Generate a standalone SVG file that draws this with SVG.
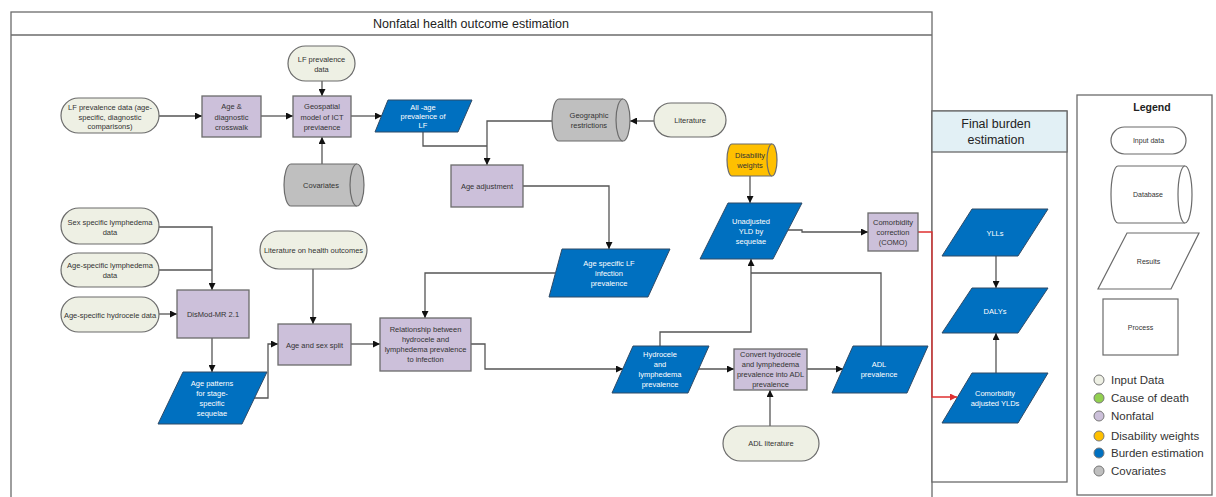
<svg xmlns="http://www.w3.org/2000/svg" width="1216" height="497" viewBox="0 0 1216 497">
<defs>
<style>
.frame{fill:#fff;stroke:#6b6b6b;stroke-width:1.3}
.inp{fill:#eef0e4;stroke:#6b6b6b;stroke-width:1.2}
.proc{fill:#ccc0da;stroke:#6b6b6b;stroke-width:1.3}
.res{fill:#0070c0;stroke:#2f4a66;stroke-width:1}
.db{fill:#bfbfbf;stroke:#6b6b6b;stroke-width:1.2}
.dw{fill:#ffc000;stroke:#6b6b6b;stroke-width:1.2}
.leg{fill:#fff;stroke:#6b6b6b;stroke-width:1.2}
.c{fill:none;stroke:#555;stroke-width:1.3}
.cr{fill:none;stroke:#e03030;stroke-width:1.3}
text{font-family:"Liberation Sans",Arial,sans-serif;text-anchor:middle;dominant-baseline:central}
.t{font-size:7.5px;fill:#333}
.tw{font-size:7.5px;fill:#fff}
.tl{font-size:7px;fill:#333}
.li{font-size:11.5px;fill:#333;text-anchor:start}
</style>
<marker id="ah" viewBox="0 0 10 10" refX="10" refY="5" markerWidth="7" markerHeight="7" orient="auto" markerUnits="userSpaceOnUse"><path d="M0,0 L10,5 L0,10 z" fill="#111"/></marker>
<marker id="ahr" viewBox="0 0 10 10" refX="10" refY="5" markerWidth="7" markerHeight="7" orient="auto" markerUnits="userSpaceOnUse"><path d="M0,0 L10,5 L0,10 z" fill="#e03030"/></marker>
</defs>
<rect width="1216" height="497" fill="#fff"/>

<g id="frame-nonfatal">
<rect class="frame" x="11" y="12" width="921" height="495"/>
<line x1="11" y1="35" x2="932" y2="35" stroke="#6b6b6b" stroke-width="1.3"/>
<text x="471" y="24" style="font-size:12.5px;fill:#222">Nonfatal health outcome estimation</text>
</g>

<g id="frame-final">
<rect class="frame" x="932" y="111" width="135" height="371"/>
<rect x="932" y="111" width="135" height="41" fill="#e2f0f5" stroke="#6b6b6b" stroke-width="1.3"/>
<text x="996" y="124" style="font-size:12.5px;fill:#222">Final burden</text>
<text x="996" y="140" style="font-size:12.5px;fill:#222">estimation</text>
</g>

<g id="connectors">
<line class="c" x1="159" y1="116" x2="202" y2="116" marker-end="url(#ah)"/>
<line class="c" x1="261" y1="116" x2="293" y2="116" marker-end="url(#ah)"/>
<line class="c" x1="322" y1="81" x2="322" y2="96" marker-end="url(#ah)"/>
<line class="c" x1="322" y1="164" x2="322" y2="137" marker-end="url(#ah)"/>
<line class="c" x1="351" y1="116" x2="382" y2="116" marker-end="url(#ah)"/>
<polyline class="c" points="423,132 423,146 487,146"/>
<polyline class="c" points="552,121 487,121 487,165" marker-end="url(#ah)"/>
<line class="c" x1="654" y1="121" x2="630" y2="121" marker-end="url(#ah)"/>
<polyline class="c" points="523,186 609,186 609,249" marker-end="url(#ah)"/>
<polyline class="c" points="555,273 425,273 425,318" marker-end="url(#ah)"/>
<polyline class="c" points="159,227 212,227 212,290" marker-end="url(#ah)"/>
<polyline class="c" points="159,270 212,270"/>
<line class="c" x1="159" y1="314" x2="177" y2="314" marker-end="url(#ah)"/>
<line class="c" x1="212" y1="338" x2="212" y2="372" marker-end="url(#ah)"/>
<polyline class="c" points="254,398 268,398 268,344 278,344" marker-end="url(#ah)"/>
<line class="c" x1="313" y1="269" x2="313" y2="324" marker-end="url(#ah)"/>
<line class="c" x1="351" y1="344" x2="380" y2="344" marker-end="url(#ah)"/>
<polyline class="c" points="471,344 485,344 485,369 623,369" marker-end="url(#ah)"/>
<line class="c" x1="698" y1="369" x2="734" y2="369" marker-end="url(#ah)"/>
<line class="c" x1="807" y1="369" x2="843" y2="369" marker-end="url(#ah)"/>
<line class="c" x1="770" y1="426" x2="770" y2="390" marker-end="url(#ah)"/>
<polyline class="c" points="660,346 660,332 751,332 751,259" marker-end="url(#ah)"/>
<polyline class="c" points="881,346 881,273 751,273"/>
<line class="c" x1="750" y1="176" x2="750" y2="203" marker-end="url(#ah)"/>
<polyline class="c" points="788,230 802,230 802,232 868,232" marker-end="url(#ah)"/>
<polyline class="cr" points="918,232 932,232 932,397 957,397" marker-end="url(#ahr)"/>
<line class="c" x1="996" y1="256" x2="996" y2="288" marker-end="url(#ah)"/>
<line class="c" x1="996" y1="373" x2="996" y2="333" marker-end="url(#ah)"/>
</g>

<g id="n-lf-age">
<rect class="inp" x="61" y="98" width="98" height="35" rx="17.5"/>
<text class="t" x="110" y="107">LF prevalence data (age-</text>
<text class="t" x="110" y="117">specific, diagnostic</text>
<text class="t" x="110" y="126">comparisons)</text>
</g>
<g id="n-crosswalk">
<rect class="proc" x="202" y="96" width="59" height="41"/>
<text class="t" x="231.5" y="106">Age &amp;</text>
<text class="t" x="231.5" y="117">diagnostic</text>
<text class="t" x="231.5" y="127">crosswalk</text>
</g>
<g id="n-geospatial">
<rect class="proc" x="293" y="96" width="58" height="41"/>
<text class="t" x="322" y="106">Geospatial</text>
<text class="t" x="322" y="117">model of ICT</text>
<text class="t" x="322" y="127">previaence</text>
</g>
<g id="n-lf-data">
<rect class="inp" x="288" y="46" width="67" height="35" rx="17.5"/>
<text class="t" x="321.5" y="59">LF prevalence</text>
<text class="t" x="321.5" y="69">data</text>
</g>
<g id="n-covariates">
<path class="db" d="M291,164 H357 A7,21 0 0 1 357,206 H291 A7,21 0 0 1 291,164 Z"/>
<path class="db" d="M357,164 A7,21 0 0 0 357,206" fill="none"/>
<text class="t" x="321" y="185">Covariates</text>
</g>
<g id="n-allage">
<polygon class="res" points="388,100 472,100 458,132 375,132"/>
<text class="tw" x="423" y="107">All -age</text>
<text class="tw" x="423" y="116">prevalence of</text>
<text class="tw" x="423" y="125">LF</text>
</g>
<g id="n-geographic">
<path class="db" d="M559,99 H623 A7,21 0 0 1 623,141 H559 A7,21 0 0 1 559,99 Z"/>
<path class="db" d="M623,99 A7,21 0 0 0 623,141" fill="none"/>
<text class="t" x="589" y="115">Geographic</text>
<text class="t" x="589" y="125">restrictions</text>
</g>
<g id="n-literature">
<rect class="inp" x="654" y="103" width="72" height="34" rx="17"/>
<text class="t" x="690" y="120">Literature</text>
</g>
<g id="n-ageadj">
<rect class="proc" x="451" y="165" width="72" height="42"/>
<text class="t" x="487" y="186">Age adjustment</text>
</g>
<g id="n-disability">
<path class="dw" d="M732,144 H772 A5,16 0 0 1 772,176 H732 A5,16 0 0 1 732,144 Z"/>
<path class="dw" d="M772,144 A5,16 0 0 0 772,176" fill="none"/>
<text class="t" x="750" y="155">Disability</text>
<text class="t" x="750" y="165">weights</text>
</g>
<g id="n-unadjusted">
<polygon class="res" points="728,203 802,203 773,259 700,259"/>
<text class="tw" x="751" y="221">Unadjusted</text>
<text class="tw" x="751" y="231">YLD by</text>
<text class="tw" x="751" y="241">sequelae</text>
</g>
<g id="n-como">
<rect class="proc" x="868" y="213" width="50" height="38"/>
<text class="t" x="893" y="222">Comorbidity</text>
<text class="t" x="893" y="232">correction</text>
<text class="t" x="893" y="242">(COMO)</text>
</g>
<g id="n-sex-lymph">
<rect class="inp" x="61" y="208" width="98" height="36" rx="18"/>
<text class="t" x="110" y="222">Sex specific lymphedema</text>
<text class="t" x="110" y="232">data</text>
</g>
<g id="n-age-lymph">
<rect class="inp" x="61" y="253" width="98" height="34" rx="17"/>
<text class="t" x="110" y="265">Age-specific lymphedema</text>
<text class="t" x="110" y="275">data</text>
</g>
<g id="n-age-hydro">
<rect class="inp" x="61" y="297" width="98" height="35" rx="17.5"/>
<text class="t" x="110" y="315">Age-specific hydrocele data</text>
</g>
<g id="n-dismod">
<rect class="proc" x="177" y="290" width="72" height="48"/>
<text class="t" x="213" y="314">DisMod-MR 2.1</text>
</g>
<g id="n-agepatterns">
<polygon class="res" points="183,372 267,372 242,424 158,424"/>
<text class="tw" x="212" y="383">Age patterns</text>
<text class="tw" x="212" y="393">for stage-</text>
<text class="tw" x="212" y="403">specific</text>
<text class="tw" x="212" y="413">sequelae</text>
</g>
<g id="n-lit-health">
<rect class="inp" x="260" y="231" width="107" height="38" rx="19"/>
<text class="t" x="313.5" y="250">Literature on health outcomes</text>
</g>
<g id="n-agesex">
<rect class="proc" x="278" y="324" width="73" height="41"/>
<text class="t" x="314.5" y="345">Age and sex split</text>
</g>
<g id="n-relationship">
<rect class="proc" x="380" y="318" width="91" height="53"/>
<text class="t" x="425.5" y="329">Relationship between</text>
<text class="t" x="425.5" y="339">hydrocele and</text>
<text class="t" x="425.5" y="349">lymphedema prevalence</text>
<text class="t" x="425.5" y="359">to infection</text>
</g>
<g id="n-agespecific-lf">
<polygon class="res" points="562,249 670,249 648,297 549,297"/>
<text class="tw" x="609" y="263">Age specific LF</text>
<text class="tw" x="609" y="273">infection</text>
<text class="tw" x="609" y="283">prevalence</text>
</g>
<g id="n-hydrocele">
<polygon class="res" points="633,346 709,346 688,393 612,393"/>
<text class="tw" x="660" y="354">Hydrocele</text>
<text class="tw" x="660" y="364">and</text>
<text class="tw" x="660" y="374">lymphedema</text>
<text class="tw" x="660" y="384">prevalence</text>
</g>
<g id="n-convert">
<rect class="proc" x="734" y="349" width="73" height="41"/>
<text class="t" x="770.5" y="354">Convert hydrocele</text>
<text class="t" x="770.5" y="364">and lymphedema</text>
<text class="t" x="770.5" y="374">prevalence into ADL</text>
<text class="t" x="770.5" y="384">prevalence</text>
</g>
<g id="n-adl">
<polygon class="res" points="853,346 928,346 907,393 832,393"/>
<text class="tw" x="879" y="364">ADL</text>
<text class="tw" x="879" y="374">prevalence</text>
</g>
<g id="n-adl-lit">
<rect class="inp" x="723" y="426" width="96" height="35" rx="17.5"/>
<text class="t" x="771" y="443">ADL literature</text>
</g>
<g id="n-ylls">
<polygon class="res" points="972,209 1048,209 1018,256 942,256"/>
<text class="tw" x="995" y="233">YLLs</text>
</g>
<g id="n-dalys">
<polygon class="res" points="972,288 1048,288 1018,333 942,333"/>
<text class="tw" x="995" y="311">DALYs</text>
</g>
<g id="n-adjusted">
<polygon class="res" points="972,373 1048,373 1018,423 942,423"/>
<text class="tw" x="995" y="393">Comorbidity</text>
<text class="tw" x="995" y="403">adjusted YLDs</text>
</g>

<g id="legend">
<rect class="frame" x="1077" y="95" width="135" height="400"/>
<text x="1152" y="107" style="font-size:10.5px;font-weight:bold;fill:#222">Legend</text>
<rect class="leg" x="1111" y="127" width="75" height="27" rx="13.5"/>
<text class="tl" x="1148.5" y="140.5">Input data</text>
<path class="leg" d="M1118,166 H1185 A7,28.5 0 0 1 1185,223 H1118 A7,28.5 0 0 1 1118,166 Z"/>
<path class="leg" d="M1185,166 A7,28.5 0 0 0 1185,223" fill="none"/>
<text class="tl" x="1148" y="194.5">Database</text>
<polygon class="leg" points="1127,233 1199,233 1171,289 1098,289"/>
<text class="tl" x="1148.5" y="261">Results</text>
<rect class="leg" x="1103" y="299" width="75" height="56"/>
<text class="tl" x="1140.5" y="327">Process</text>
<circle cx="1099" cy="380" r="5" fill="#eef0e4" stroke="#777"/>
<text class="li" x="1111" y="380">Input Data</text>
<circle cx="1099" cy="398" r="5" fill="#92d050" stroke="#777"/>
<text class="li" x="1111" y="398">Cause of death</text>
<circle cx="1099" cy="416" r="5" fill="#ccc0da" stroke="#777"/>
<text class="li" x="1111" y="416">Nonfatal</text>
<circle cx="1099" cy="436" r="5" fill="#ffc000" stroke="#777"/>
<text class="li" x="1111" y="436">Disability weights</text>
<circle cx="1099" cy="453" r="5" fill="#0070c0" stroke="#777"/>
<text class="li" x="1111" y="453">Burden estimation</text>
<circle cx="1099" cy="471" r="5" fill="#bfbfbf" stroke="#777"/>
<text class="li" x="1111" y="471">Covariates</text>
</g>
</svg>
